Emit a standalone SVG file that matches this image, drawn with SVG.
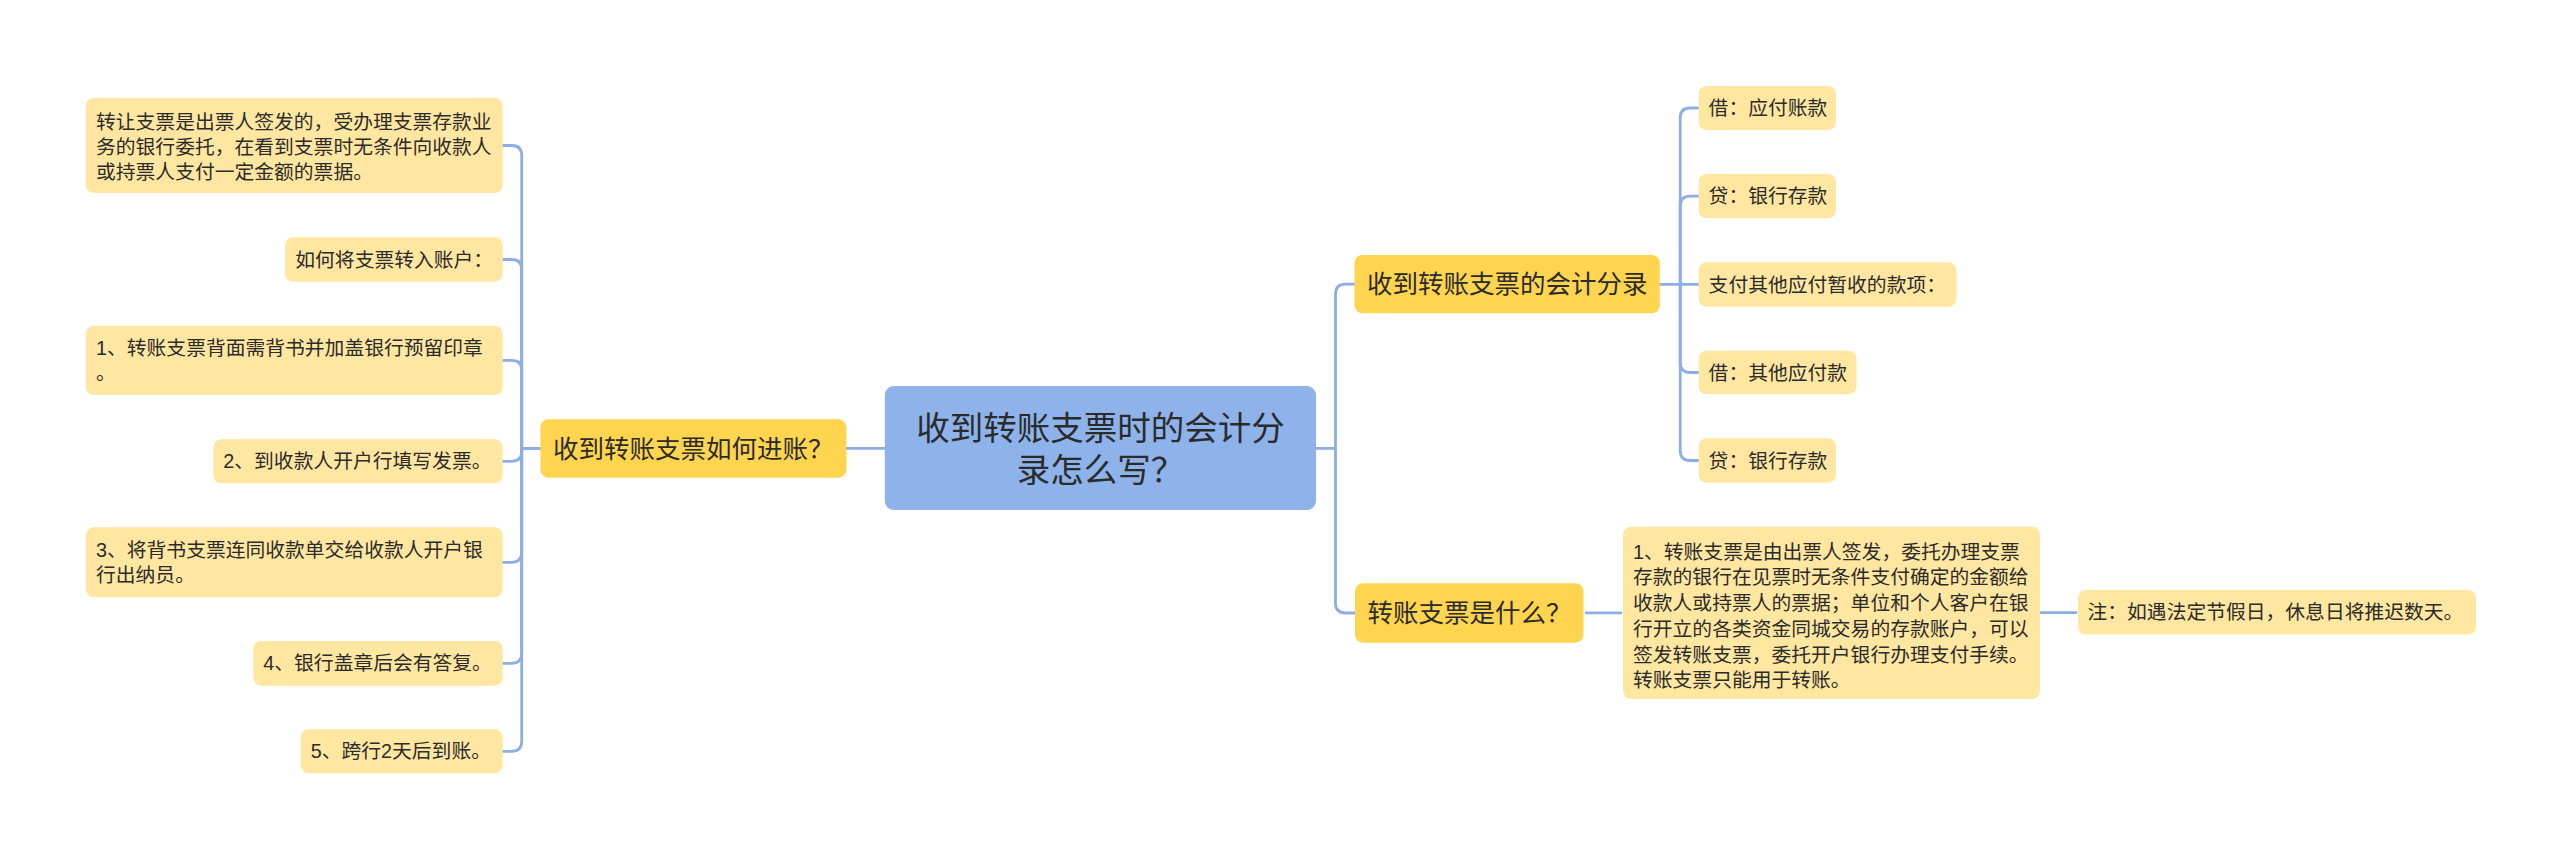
<svg xmlns="http://www.w3.org/2000/svg" width="2560" height="860" viewBox="0 0 2560 860">
<style>
.leaf{fill:#FFE7A2;}
.branch{fill:#FFD44E;}
.root{fill:#8EB3EA;}
text{font-family:"Liberation Sans","Noto Sans CJK SC",sans-serif;fill:#2b2b2b;}
.t1{font-size:19.8px;}
.t2{font-size:25.5px;}
.t0{font-size:33.5px;text-anchor:middle;}
.conn{fill:none;stroke:#8DADE6;stroke-width:2.8;stroke-linecap:round;stroke-linejoin:round;}
</style>
<rect width="2560" height="860" fill="#ffffff"/>
<g id="connectors">
<path class="conn" d="M884.8 448.4 H846.4"/>
<path class="conn" d="M540.4 448.5 H521.7 V155.5 Q521.7 145.5 511.7 145.5 H502.7"/>
<path class="conn" d="M521.7 448.5 V269.5 Q521.7 259.5 511.7 259.5 H502.7"/>
<path class="conn" d="M521.7 448.5 V370.3 Q521.7 360.3 511.7 360.3 H502.7"/>
<path class="conn" d="M521.7 448.5 V451.3 Q521.7 461.3 511.7 461.3 H502.7"/>
<path class="conn" d="M521.7 448.5 V552.3 Q521.7 562.3 511.7 562.3 H502.7"/>
<path class="conn" d="M521.7 448.5 V653.3 Q521.7 663.3 511.7 663.3 H502.7"/>
<path class="conn" d="M521.7 448.5 V741.3 Q521.7 751.3 511.7 751.3 H502.7"/>
<path class="conn" d="M1316 448.4 H1335.5 V294.2 Q1335.5 284.2 1345.5 284.2 H1354.5"/>
<path class="conn" d="M1335.5 448.4 V603 Q1335.5 613 1345.5 613 H1355"/>
<path class="conn" d="M1659.8 284.3 H1680.2 V118 Q1680.2 108 1690.2 108 H1698.6"/>
<path class="conn" d="M1680.2 284.3 V206.2 Q1680.2 196.2 1690.2 196.2 H1698.6"/>
<path class="conn" d="M1680.2 284.3 H1698.6"/>
<path class="conn" d="M1680.2 284.3 V362.5 Q1680.2 372.5 1690.2 372.5 H1698.6"/>
<path class="conn" d="M1680.2 284.3 V450.5 Q1680.2 460.5 1690.2 460.5 H1698.6"/>
<path class="conn" d="M1586 612.8 H1621"/>
<path class="conn" d="M2041 612.6 H2076"/>
</g>
<g id="root">
<rect class="root" x="884.8" y="386" width="431.2" height="124" rx="9"/>
<text class="t0" x="1100.4" y="440">收到转账支票时的会计分</text>
<text class="t0" x="1100.4" y="482">录怎么写？</text>
</g>
<g id="branch-left">
<rect class="branch" x="540.4" y="419.3" width="306" height="58.4" rx="8"/>
<text class="t2" x="553" y="457.5">收到转账支票如何进账？</text>
</g>
<g id="leaf-l1">
<rect class="leaf" x="85.7" y="98" width="417" height="95" rx="8"/>
<text class="t1" x="96" y="128.7">转让支票是出票人签发的，受办理支票存款业</text>
<text class="t1" x="96" y="153.7">务的银行委托，在看到支票时无条件向收款人</text>
<text class="t1" x="96" y="178.7">或持票人支付一定金额的票据。</text>
</g>
<g id="leaf-l2">
<rect class="leaf" x="285" y="237.3" width="217.7" height="44.4" rx="8"/>
<text class="t1" x="295.3" y="266.7">如何将支票转入账户：</text>
</g>
<g id="leaf-l3">
<rect class="leaf" x="85.7" y="325.7" width="417" height="69.3" rx="8"/>
<text class="t1" x="96" y="354.8">1、转账支票背面需背书并加盖银行预留印章</text>
<text class="t1" x="96" y="379.8">。</text>
</g>
<g id="leaf-l4">
<rect class="leaf" x="213.3" y="439.3" width="289.4" height="44" rx="8"/>
<text class="t1" x="223.3" y="468.3">2、到收款人开户行填写发票。</text>
</g>
<g id="leaf-l5">
<rect class="leaf" x="85.7" y="527.3" width="417" height="70" rx="8"/>
<text class="t1" x="96" y="556.8">3、将背书支票连同收款单交给收款人开户银</text>
<text class="t1" x="96" y="581.8">行出纳员。</text>
</g>
<g id="leaf-l6">
<rect class="leaf" x="253.3" y="641" width="249.4" height="44.7" rx="8"/>
<text class="t1" x="263.3" y="670.3">4、银行盖章后会有答复。</text>
</g>
<g id="leaf-l7">
<rect class="leaf" x="300.7" y="729.3" width="202" height="44" rx="8"/>
<text class="t1" x="310.7" y="758.3">5、跨行2天后到账。</text>
</g>
<g id="branch-r1">
<rect class="branch" x="1354.5" y="255" width="305.3" height="58.3" rx="8"/>
<text class="t2" x="1367" y="293.2">收到转账支票的会计分录</text>
</g>
<g id="leaf-r1">
<rect class="leaf" x="1698.6" y="86" width="137.4" height="44" rx="8"/>
<text class="t1" x="1708.6" y="115">借：应付账款</text>
</g>
<g id="leaf-r2">
<rect class="leaf" x="1698.6" y="174" width="137.4" height="44.3" rx="8"/>
<text class="t1" x="1708.6" y="203.2">贷：银行存款</text>
</g>
<g id="leaf-r3">
<rect class="leaf" x="1698.6" y="262.3" width="257.9" height="44.4" rx="8"/>
<text class="t1" x="1708.6" y="291.5">支付其他应付暂收的款项：</text>
</g>
<g id="leaf-r4">
<rect class="leaf" x="1698.6" y="350.7" width="157.9" height="43.6" rx="8"/>
<text class="t1" x="1708.6" y="379.5">借：其他应付款</text>
</g>
<g id="leaf-r5">
<rect class="leaf" x="1698.6" y="438.3" width="137.4" height="44.4" rx="8"/>
<text class="t1" x="1708.6" y="467.5">贷：银行存款</text>
</g>
<g id="branch-r2">
<rect class="branch" x="1355" y="583.3" width="228.5" height="59.4" rx="8"/>
<text class="t2" x="1367.5" y="622">转账支票是什么？</text>
</g>
<g id="leaf-r6">
<rect class="leaf" x="1623" y="526.7" width="417" height="172.3" rx="8"/>
<text class="t1" x="1633" y="558.7">1、转账支票是由出票人签发，委托办理支票</text>
<text class="t1" x="1633" y="584.4">存款的银行在见票时无条件支付确定的金额给</text>
<text class="t1" x="1633" y="610.1">收款人或持票人的票据；单位和个人客户在银</text>
<text class="t1" x="1633" y="635.8">行开立的各类资金同城交易的存款账户，可以</text>
<text class="t1" x="1633" y="661.5">签发转账支票，委托开户银行办理支付手续。</text>
<text class="t1" x="1633" y="687.2">转账支票只能用于转账。</text>
</g>
<g id="leaf-r7">
<rect class="leaf" x="2078" y="590" width="398" height="44.5" rx="8"/>
<text class="t1" x="2087.5" y="619.3">注：如遇法定节假日，休息日将推迟数天。</text>
</g>
</svg>
